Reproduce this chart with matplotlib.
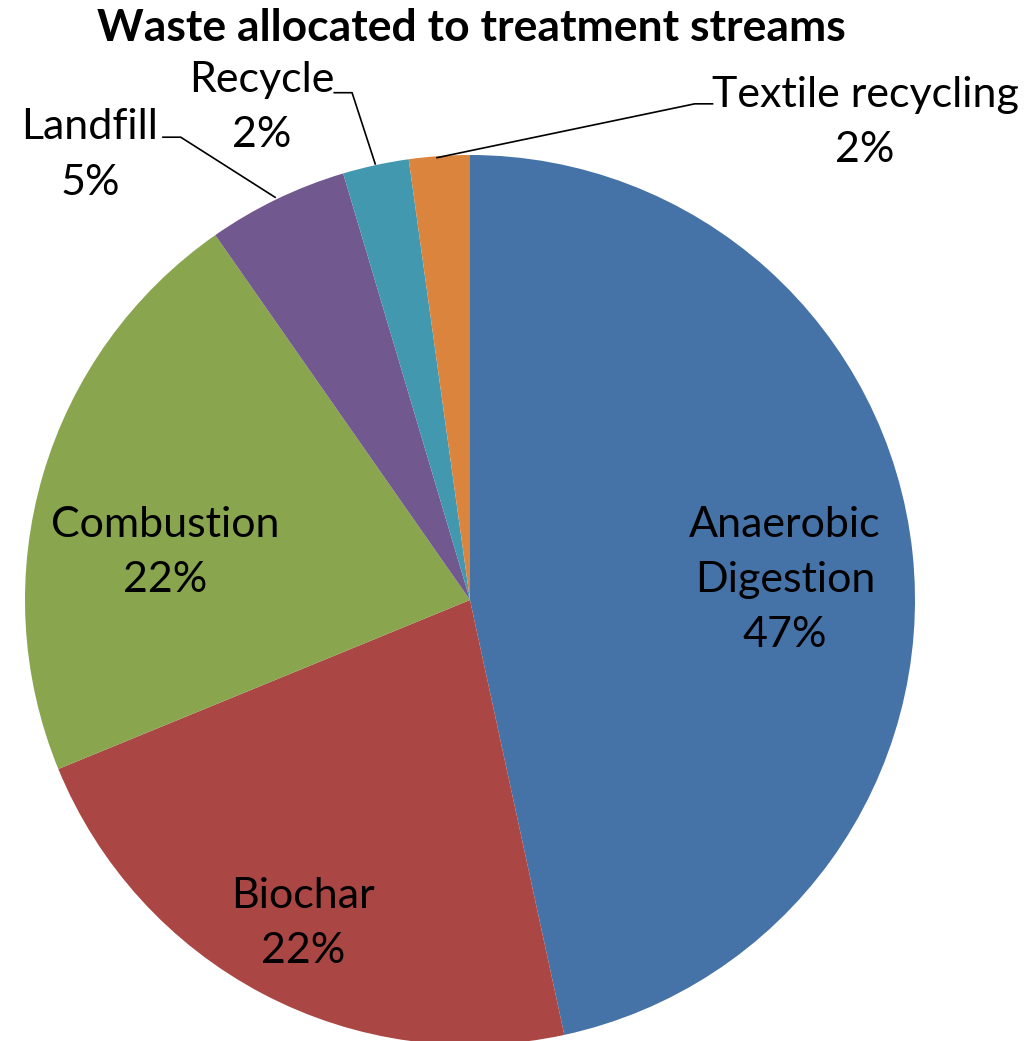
import matplotlib
matplotlib.use("Agg")
import matplotlib.pyplot as plt
import numpy as np

categories = ["Anaerobic\nDigestion", "Biochar", "Combustion", "Landfill", "Recycle", "Textile recycling"]
values = [46.6, 22.2, 21.5, 5.1, 2.4, 2.2]
colors = ["#4572A7", "#AA4643", "#89A54E", "#71588F", "#4198AF", "#DB843D"]
title = "Waste allocated to treatment streams"

plt.rcParams['font.family'] = ['Lato', 'DejaVu Sans']

fig = plt.figure(figsize=(10.27, 10.41), dpi=100)
W, H = 1027, 1041
cx, cy, R = 470, 600, 445
ax = fig.add_axes([(cx - R) / W, (H - cy - R) / H, 2 * R / W, 2 * R / H])

wedges, _ = ax.pie(values, colors=colors, startangle=90, counterclock=False,
                   radius=1, wedgeprops=dict(linewidth=0))
ax.set_xlim(-1, 1)
ax.set_ylim(-1, 1)
ax.set_aspect('equal')
ax.axis('off')

total = sum(values)
pct = [f"{round(v / total * 100):.0f}%" for v in values]

fs = 31
ls = 1.55
inside = {0: (0.708, 0.045), 1: (-0.375, -0.726), 2: (-0.685, 0.106)}
for i, (x, y) in inside.items():
    ax.text(x, y, f"{categories[i]}\n{pct[i]}", ha='center', va='center',
            fontsize=fs, linespacing=ls)

# outside labels with leader lines: text pos, elbow, wedge point
outside = {
    3: ((-0.854, 1.0), (-0.65, 1.04), (-0.438, 0.905), 'right'),
    4: ((-0.467, 1.106), (-0.265, 1.14), (-0.213, 0.98), 'right'),
    5: ((0.888, 1.072), (0.505, 1.115), (-0.074, 0.994), 'left'),
}
for i, (tp, elbow, wp, side) in outside.items():
    ax.text(tp[0], tp[1], f"{categories[i]}\n{pct[i]}", ha='center', va='center',
            fontsize=fs, linespacing=ls, clip_on=False)
    dx = -0.04 if side == 'right' else 0.04
    ax.plot([elbow[0] + dx, elbow[0], wp[0]], [elbow[1], elbow[1], wp[1]],
            color='black', lw=1.2, clip_on=False)

fig.text(471 / W, 1 - 28 / H, title, ha='center', va='center', fontsize=32,
         fontweight='bold')

fig.savefig("out.png", dpi=100, facecolor='white')
